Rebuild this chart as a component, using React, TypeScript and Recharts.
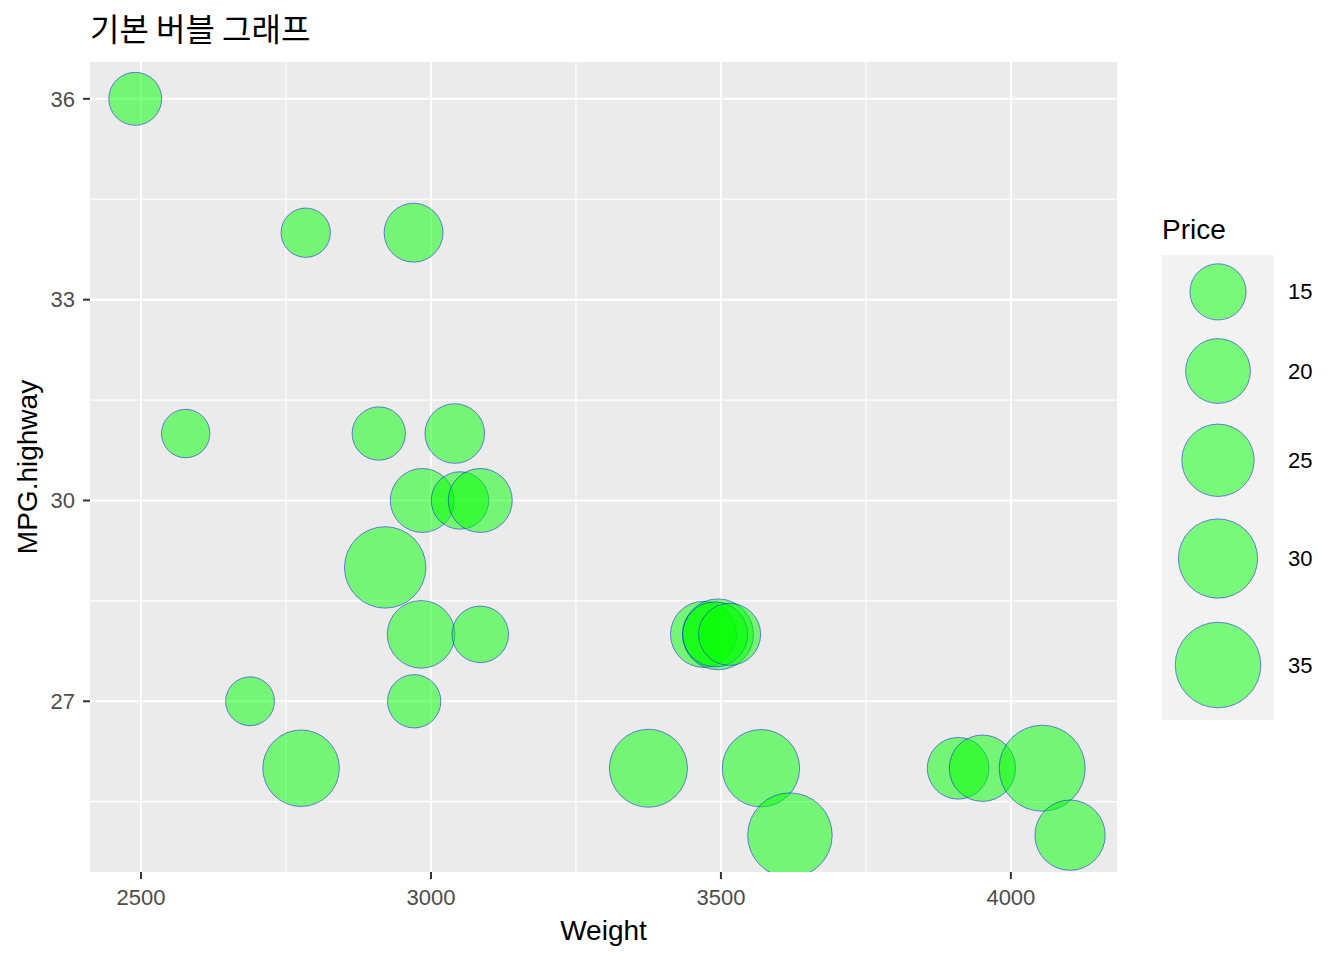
import { ScatterChart, Scatter, XAxis, YAxis, ZAxis, CartesianGrid } from 'recharts'

document.body.style.margin = '0'

// values
const weight = [2490, 2784, 2970, 2577, 2910, 3041, 2985, 3050, 3085, 2921, 2983, 3085, 2971, 2688, 2776, 3375, 3569, 3619, 3909, 3951, 4054, 4102, 3470, 3495, 3490, 3515]
const mpgHighway = [36, 34, 34, 31, 31, 31, 30, 30, 30, 29, 28, 28, 27, 27, 26, 26, 26, 25, 26, 26, 26, 25, 28, 28, 28, 28]
const price = [13.3, 11.5, 16.5, 11.1, 13.5, 16.9, 19.5, 15.7, 19.5, 31.7, 21.8, 15.2, 13.5, 11.3, 28.0, 29.1, 28.6, 34.2, 18.1, 21.0, 35.4, 23.6, 20.8, 24.0, 20.1, 18.3]

const xTicks = [2500, 3000, 3500, 4000]
const xMinor = [2750, 3250, 3750]
const yTicks = [27, 30, 33, 36]
const yMinor = [25.5, 28.5, 31.5, 34.5]
const legendBreaks = [15, 20, 25, 30, 35]

const FONT = '"Liberation Sans", Arial, sans-serif'
const KR_FONT = '"Noto Sans CJK KR", "Noto Sans", sans-serif'

// bubble area grows linearly with price (same rule for plot and legend)
const r2Of = (p: number) => 790 + 52 * (p - 15)
const areaOf = (p: number) => Math.PI * r2Of(p)
const radiusOf = (p: number) => Math.sqrt(r2Of(p))

const data = weight.map((w, i) => ({ weight: w, mpg: mpgHighway[i], price: price[i] }))
const zMin = Math.min(...price)
const zMax = Math.max(...price)

const tickStyle = { fill: '#4D4D4D', fontSize: 22, fontFamily: FONT }
const tickLine = { stroke: '#333333', strokeWidth: 2 }

function PriceLegend() {
  const keys = legendBreaks.map((b) => ({ b, r: radiusOf(b), h: 2.5 * radiusOf(b) + 3.5 }))
  const top = 255
  let y = top
  const total = keys.reduce((s, k) => s + k.h, 0)
  return (
    <g>
      <text x={1162} y={239} fontSize={28} fontFamily={FONT} fill="#000">Price</text>
      <rect x={1162} y={top} width={112} height={total} fill="#F2F2F2" />
      {keys.map((k) => {
        const cy = y + k.h / 2
        y += k.h
        return (
          <g key={k.b}>
            <circle cx={1218} cy={cy} r={k.r} fill="#00FF00" fillOpacity={0.5} stroke="#0000FF" strokeOpacity={0.6} strokeWidth={0.8} />
            <text x={1288} y={cy} dominantBaseline="central" fontSize={22} fontFamily={FONT} fill="#000">{k.b}</text>
          </g>
        )
      })}
    </g>
  )
}

export default function App() {
  return (
    <div style={{ position: 'relative', width: 1344, height: 960, background: '#fff' }}>
      <ScatterChart width={1344} height={960} margin={{ top: 62, right: 227, bottom: 28, left: 0 }}>
        <CartesianGrid fill="#EBEBEB" stroke="#FFFFFF" strokeWidth={1.2} horizontalValues={yMinor} verticalValues={xMinor} />
        <CartesianGrid fill="none" stroke="#FFFFFF" strokeWidth={2} horizontalValues={yTicks} verticalValues={xTicks} />
        <XAxis
          type="number"
          dataKey="weight"
          domain={[2412, 4183]}
          ticks={xTicks}
          interval={0}
          allowDataOverflow
          axisLine={false}
          tickLine={tickLine}
          tickSize={7}
          tickMargin={10}
          height={60}
          tick={tickStyle}
        />
        <YAxis
          type="number"
          dataKey="mpg"
          domain={[24.45, 36.55]}
          ticks={yTicks}
          interval={0}
          allowDataOverflow
          axisLine={false}
          tickLine={tickLine}
          tickSize={7}
          tickMargin={8}
          width={90}
          tick={tickStyle}
        />
        <ZAxis type="number" dataKey="price" domain={[zMin, zMax]} range={[areaOf(zMin), areaOf(zMax)]} />
        <Scatter
          data={data}
          fill="#00FF00"
          fillOpacity={0.5}
          stroke="#0000FF"
          strokeOpacity={0.6}
          strokeWidth={0.8}
          isAnimationActive={false}
        />
      </ScatterChart>
      <svg width={1344} height={960} style={{ position: 'absolute', left: 0, top: 0, pointerEvents: 'none' }}>
        <text x={90} y={41} fontSize={32} fontFamily={KR_FONT} fill="#000">기본 버블 그래프</text>
        <text x={603.5} y={940} textAnchor="middle" fontSize={28} fontFamily={FONT} fill="#000">Weight</text>
        <text transform="translate(37, 467) rotate(-90)" textAnchor="middle" fontSize={28} fontFamily={FONT} fill="#000">MPG.highway</text>
        <PriceLegend />
      </svg>
    </div>
  )
}
